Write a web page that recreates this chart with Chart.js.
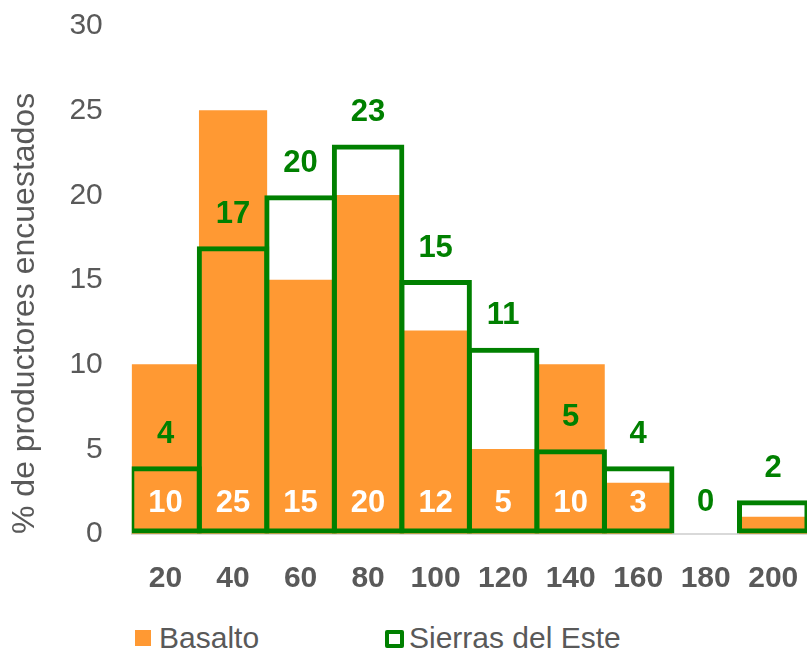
<!DOCTYPE html>
<html>
<head>
<meta charset="utf-8">
<script src="https://cdn.jsdelivr.net/npm/chart.js@4"></script>
<style>
  body { margin: 0; background: #fff; font-family: "Liberation Sans", Arial, sans-serif; }
  #wrap { position: relative; width: 807px; height: 650px; }
  #box { position: absolute; left: 0; top: 0; width: 807px; height: 601px; }
  .leg { position: absolute; top: 620px; font-size: 30px; color: #595959; line-height: 36px; white-space: nowrap; }
  .sw { position: absolute; top: 10px; box-sizing: border-box; }
</style>
</head>
<body>
<div id="wrap">
  <div id="box"><canvas id="chart"></canvas></div>
  <div class="leg" style="left:135px"><span class="sw" style="left:0;width:16px;height:16px;background:#FF9933"></span><span style="margin-left:24px">Basalto</span></div>
  <div class="leg" style="left:385px"><span class="sw" style="left:0;width:19px;height:18px;border:4px solid #008000;border-radius:2px"></span><span style="margin-left:24px">Sierras del Este</span></div>
</div>
<script>
const categories = ["20", "40", "60", "80", "100", "120", "140", "160", "180", "200"];
const basalto = [10, 25, 15, 20, 12, 5, 10, 3, 0, 1];
const sierras = [4, 17, 20, 23, 15, 11, 5, 4, 0, 2];
const yTicks = [0, 5, 10, 15, 20, 25, 30];

const FONT = '"Liberation Sans", Arial, sans-serif';

// value labels drawn right after each dataset, so the green bars cover orange labels
const valueLabels = {
  id: 'valueLabels',
  afterDatasetDraw(chart, args) {
    const ctx = chart.ctx;
    const y0 = chart.scales.y.getPixelForValue(0);
    const ds = chart.data.datasets[args.index];
    ctx.save();
    ctx.textAlign = 'center';
    ctx.textBaseline = 'middle';
    ctx.font = 'bold 31px ' + FONT;
    args.meta.data.forEach((bar, i) => {
      const v = ds.data[i];
      if (ds.label === 'Basalto') {
        ctx.fillStyle = '#ffffff';
        ctx.fillText(v, bar.x, y0 - 31);
      } else {
        ctx.fillStyle = '#008000';
        ctx.fillText(v, bar.x, bar.y - 32);
      }
    });
    ctx.restore();
  }
};

new Chart(document.getElementById('chart'), {
  type: 'bar',
  data: {
    labels: categories,
    datasets: [
      {
        label: 'Sierras del Este',
        data: sierras,
        backgroundColor: 'rgba(0,0,0,0)',
        borderColor: (c) => c.raw === 0 ? 'rgba(0,0,0,0)' : '#008000',
        borderWidth: 5,
        borderSkipped: false,
        grouped: false,
        categoryPercentage: 1,
        barPercentage: 1.074
      },
      {
        label: 'Basalto',
        data: basalto,
        backgroundColor: (c) => c.raw === 0 ? 'rgba(0,0,0,0)' : '#FF9933',
        borderWidth: 0,
        grouped: false,
        categoryPercentage: 1,
        barPercentage: 1
      }
    ]
  },
  options: {
    responsive: true,
    maintainAspectRatio: false,
    animation: false,
    layout: { padding: { top: 26, right: 0, left: 4, bottom: 0 } },
    plugins: {
      legend: { display: false },
      tooltip: { enabled: false }
    },
    scales: {
      x: {
        grid: { display: true, color: 'rgba(0,0,0,0)', drawTicks: true, tickLength: 23 },
        border: { display: true, color: '#d9d9d9', width: 2 },
        ticks: {
          color: '#595959',
          font: { size: 30, weight: 'bold', family: FONT },
          padding: 4
        }
      },
      y: {
        min: 0,
        max: 30,
        afterBuildTicks: (axis) => { axis.ticks = yTicks.map(v => ({ value: v })); },
        grid: { display: true, color: 'rgba(0,0,0,0)', drawTicks: true, tickLength: 25 },
        border: { display: false },
        ticks: {
          color: '#595959',
          font: { size: 30, family: FONT },
          padding: 4
        },
        title: {
          display: true,
          text: '% de productores encuestados',
          align: 'start',
          color: '#595959',
          font: { size: 32, family: FONT },
          padding: { top: 2, bottom: 21 }
        }
      }
    }
  },
  plugins: [valueLabels]
});
</script>
</body>
</html>
